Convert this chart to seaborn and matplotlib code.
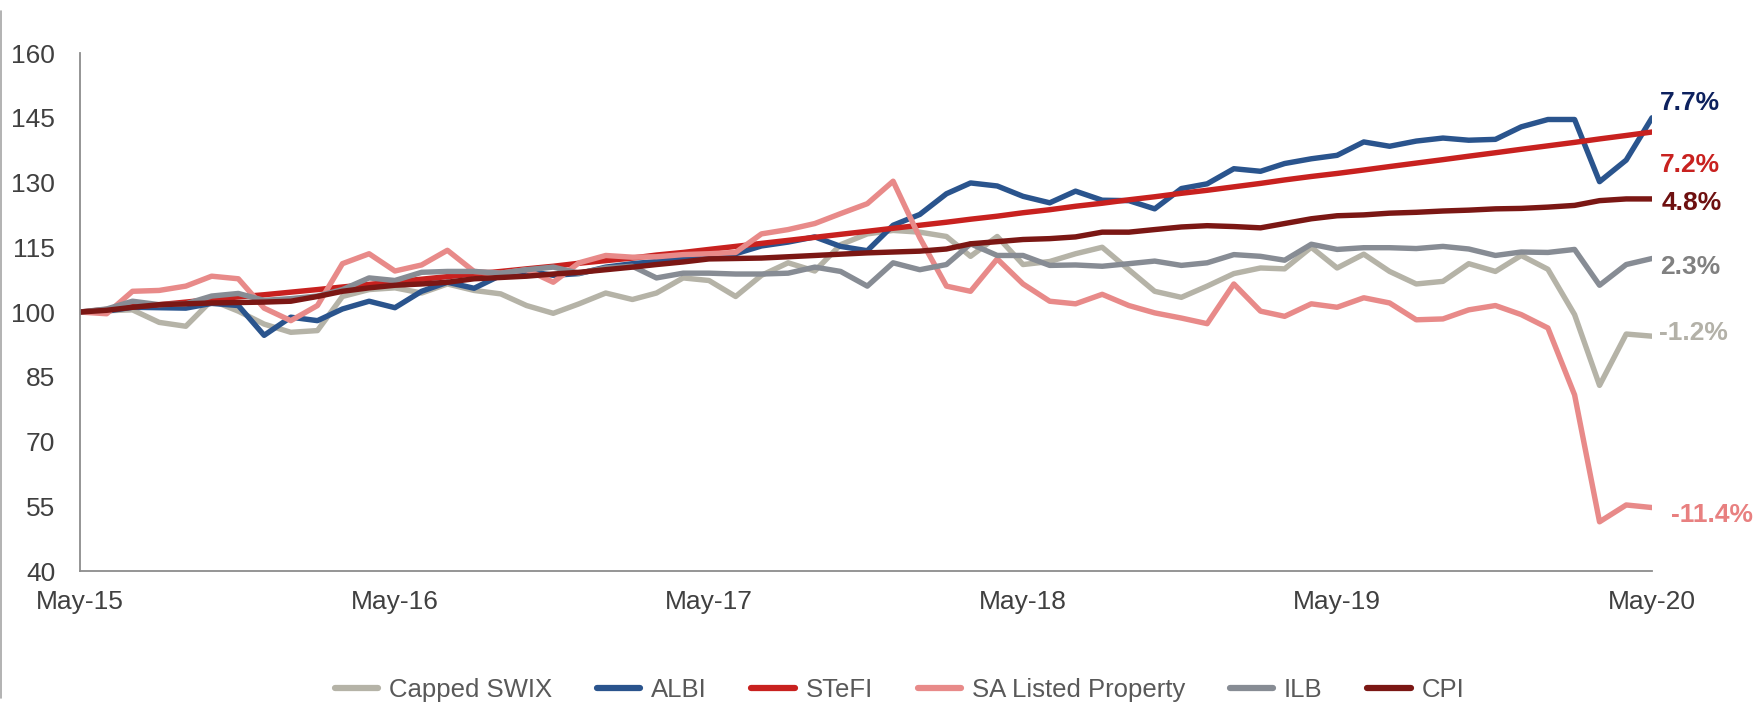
import matplotlib
matplotlib.use("Agg")
import matplotlib.pyplot as plt
import matplotlib.dates as mdates
from matplotlib.lines import Line2D
import seaborn as sns
import pandas as pd

# monthly index values, May-15 .. May-20 (rebased to 100)
dates = pd.date_range("2015-05-01", periods=61, freq="MS")

capped_swix = [100.0, 100.3, 100.5, 97.6, 96.7, 102.7, 100.2, 97.2, 95.3, 95.7, 103.6, 105.2, 105.6,
               104.4, 106.5, 105.0, 104.2, 101.5, 99.7, 101.9, 104.4, 102.9, 104.4, 107.9, 107.3,
               103.6, 108.5, 111.4, 109.5, 115.6, 118.1, 118.9, 118.5, 117.5, 112.9, 117.5, 111.0,
               111.7, 113.5, 115.0, 109.8, 104.8, 103.4, 106.0, 108.9, 110.2, 110.0, 115.0, 110.2,
               113.4, 109.4, 106.5, 107.1, 111.2, 109.4, 113.1, 109.9, 99.4, 83.0, 94.9, 94.4]
albi = [100.0, 100.2, 101.1, 101.0, 100.9, 102.0, 101.5, 94.6, 98.8, 98.0, 100.7, 102.5, 101.0,
        104.8, 106.9, 105.5, 108.5, 109.5, 108.5, 108.9, 110.4, 111.2, 111.7, 112.3, 112.8,
        113.5, 115.3, 116.2, 117.4, 115.2, 114.2, 120.1, 122.6, 127.4, 129.9, 129.2, 126.8,
        125.3, 128.0, 125.9, 125.8, 123.9, 128.6, 129.7, 133.2, 132.6, 134.4, 135.5, 136.3,
        139.4, 138.4, 139.6, 140.3, 139.8, 140.0, 142.9, 144.6, 144.6, 130.2, 135.2, 145.0]
stefi = [100.0, 100.6, 101.2, 101.7, 102.3, 102.9, 103.5, 104.0, 104.6, 105.2, 105.8, 106.4, 107.0,
         107.6, 108.2, 108.8, 109.4, 110.0, 110.6, 111.3, 111.9, 112.5, 113.2, 113.8, 114.5,
         115.2, 115.9, 116.6, 117.3, 118.0, 118.7, 119.4, 120.1, 120.8, 121.5, 122.2, 123.0,
         123.7, 124.5, 125.2, 126.0, 126.7, 127.5, 128.2, 129.0, 129.8, 130.6, 131.4, 132.1,
         132.9, 133.7, 134.5, 135.3, 136.1, 136.9, 137.7, 138.5, 139.3, 140.1, 140.9, 141.7]
sa_property = [100.0, 99.6, 104.8, 105.0, 106.0, 108.3, 107.7, 100.9, 98.0, 101.5, 111.2, 113.5, 109.5,
               110.9, 114.3, 109.4, 109.0, 109.8, 106.9, 111.4, 113.1, 112.7, 112.8, 113.3, 113.5,
               113.8, 118.1, 119.1, 120.5, 122.8, 125.1, 130.3, 117.2, 106.0, 104.8, 112.3, 106.5,
               102.5, 101.9, 104.1, 101.5, 99.8, 98.6, 97.3, 106.5, 100.2, 99.0, 101.9, 101.1,
               103.3, 102.1, 98.2, 98.4, 100.5, 101.5, 99.4, 96.3, 80.8, 51.4, 55.3, 54.7]
ilb = [100.0, 100.7, 102.5, 101.7, 101.9, 103.7, 104.3, 102.7, 103.1, 103.7, 105.2, 107.9, 107.3,
       109.2, 109.4, 109.4, 109.0, 109.8, 110.4, 109.0, 110.2, 110.6, 107.9, 109.0, 109.0,
       108.8, 108.8, 109.0, 110.4, 109.4, 106.0, 111.4, 109.8, 111.0, 115.8, 113.1, 113.1,
       110.8, 110.9, 110.6, 111.2, 111.8, 110.8, 111.4, 113.3, 112.9, 112.0, 115.7, 114.5,
       114.9, 114.9, 114.7, 115.2, 114.6, 113.1, 113.9, 113.8, 114.5, 106.2, 111.0, 112.4]
cpi = [100.0, 100.4, 101.1, 101.7, 101.9, 102.1, 102.2, 102.3, 102.5, 103.6, 104.8, 105.6, 106.2,
       106.5, 106.9, 107.7, 108.0, 108.3, 108.8, 109.2, 109.8, 110.4, 111.0, 111.6, 112.3,
       112.4, 112.5, 112.8, 113.1, 113.4, 113.7, 113.9, 114.1, 114.6, 115.8, 116.3, 116.8,
       117.0, 117.4, 118.5, 118.5, 119.1, 119.7, 120.0, 119.8, 119.5, 120.5, 121.6, 122.3,
       122.5, 122.9, 123.1, 123.4, 123.6, 123.9, 124.0, 124.3, 124.7, 125.8, 126.2, 126.2]

series_names = ["Capped SWIX", "ALBI", "STeFI", "SA Listed Property", "ILB", "CPI"]
series_values = [capped_swix, albi, stefi, sa_property, ilb, cpi]
line_colors = ["#b5b3a7", "#2a548d", "#c8211f", "#e88a89", "#878c94", "#7b1714"]

# annualised returns shown at the right edge
return_labels = ["7.7%", "7.2%", "4.8%", "2.3%", "-1.2%", "-11.4%"]
label_colors = ["#0d215e", "#c8211f", "#6e1010", "#808080", "#b3b1a8", "#e88080"]
label_y = [148.4, 134.1, 125.3, 110.4, 95.1, 53.0]
label_dx = [6, 6, 7, 6, 5, 14]

df = pd.concat(
    [pd.DataFrame({"date": dates, "value": v, "series": n}) for n, v in zip(series_names, series_values)],
    ignore_index=True,
)

sns.set_style("white")
plt.rcParams["font.family"] = ["Liberation Sans", "DejaVu Sans"]

fig = plt.figure(figsize=(17.6, 7.06), dpi=100)
ax = fig.add_axes([0.04545, 0.1912, 0.8932, 0.7337])

sns.lineplot(data=df, x="date", y="value", hue="series", hue_order=series_names,
             palette=dict(zip(series_names, line_colors)), linewidth=3.9, ax=ax, legend=False)

ax.set_xlim(dates[0], dates[-1])
ax.set_ylim(40, 160)
ax.set_yticks(range(40, 161, 15))
ax.set_xticks(pd.date_range("2015-05-01", "2020-05-01", freq="12MS"))
ax.xaxis.set_major_formatter(mdates.DateFormatter("%b-%y"))
ax.set_xlabel("")
ax.set_ylabel("")

for side in ["top", "right"]:
    ax.spines[side].set_visible(False)
for side in ["left", "bottom"]:
    ax.spines[side].set_color("#8c8c8c")
    ax.spines[side].set_linewidth(1.3)
ax.tick_params(axis="both", direction="out", length=5.8, width=1.3, color="#8c8c8c",
               labelsize=19, labelcolor="#404040")
ax.tick_params(axis="x", pad=8)
ax.tick_params(axis="y", pad=12)

for txt, col, yv, dx in zip(return_labels, label_colors, label_y, label_dx):
    ax.annotate(txt, xy=(dates[-1], yv), xytext=(dx, 0), textcoords="offset points",
                ha="left", va="center", fontsize=19, fontweight="bold", color=col,
                annotation_clip=False)

handles = [Line2D([0], [0], color=c, lw=4.5, solid_capstyle="round") for c in line_colors]
leg = fig.legend(handles, series_names, loc="center", bbox_to_anchor=(0.511, 0.023), ncol=6,
                 frameon=False, fontsize=18.5, handlelength=1.7, handletextpad=0.4,
                 columnspacing=1.75)
for t in leg.get_texts():
    t.set_color("#595959")

# thin frame line on the left edge of the picture
fig.add_artist(Line2D([0.0008, 0.0008], [0.012, 0.985], transform=fig.transFigure,
                      color="#a6a6a6", lw=1.2))

fig.savefig("out.png", dpi=100)
plt.close(fig)
